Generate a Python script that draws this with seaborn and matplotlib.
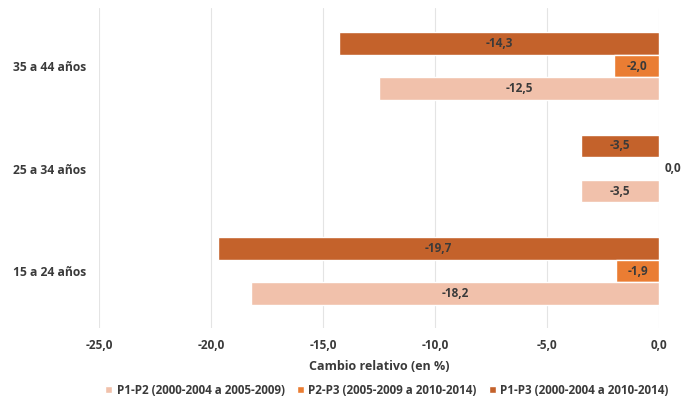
import matplotlib
matplotlib.use("Agg")
import matplotlib.pyplot as plt
import seaborn as sns
import pandas as pd
from matplotlib.patches import Patch

# Age groups (top to bottom) and relative change per period comparison
grupos = ["35 a 44 años", "25 a 34 años", "15 a 24 años"]
periodos = ["P1-P2 (2000-2004 a 2005-2009)",
            "P2-P3 (2005-2009 a 2010-2014)",
            "P1-P3 (2000-2004 a 2010-2014)"]
p1_p2 = [-12.5, -3.5, -18.2]
p2_p3 = [-2.0, 0.0, -1.9]
p1_p3 = [-14.3, -3.5, -19.7]
x_ticks = [-25, -20, -15, -10, -5, 0]

colores = {periodos[0]: "#F1C1AB",
           periodos[1]: "#EA7D33",
           periodos[2]: "#C4622B"}

df = pd.DataFrame({
    "grupo": grupos * 3,
    "periodo": [periodos[0]] * 3 + [periodos[1]] * 3 + [periodos[2]] * 3,
    "valor": p1_p2 + p2_p3 + p1_p3,
})

sns.set_theme(style="white")
plt.rcParams["font.family"] = ["Open Sans", "DejaVu Sans"]
txt = "#3A3A3A"

fig = plt.figure(figsize=(6.87, 4.0), dpi=100)
ax = fig.add_axes([99 / 687, 1 - 328 / 400, (659 - 99) / 687, 320 / 400])

# Dodge order: P1-P3 on top, then P2-P3, then P1-P2
hue_order = [periodos[2], periodos[1], periodos[0]]
sns.barplot(data=df, y="grupo", x="valor", hue="periodo", order=grupos,
            hue_order=hue_order, palette=colores, width=0.66,
            orient="h", ax=ax, legend=False, errorbar=None, saturation=1)

# Value labels centred on each bar
for cont, per in zip(ax.containers, hue_order):
    vals = df[df["periodo"] == per].set_index("grupo").loc[grupos, "valor"]
    for bar, v in zip(cont, vals):
        yc = bar.get_y() + bar.get_height() / 2
        lab = f"{v:.1f}".replace(".", ",")
        if v == 0:
            ax.text(0.25, yc, lab, ha="left", va="center",
                    fontsize=8.5, fontweight="bold", color=txt, clip_on=False)
        else:
            ax.text(v / 2, yc, lab, ha="center", va="center",
                    fontsize=8.5, fontweight="bold", color=txt)

ax.set_xlim(-25, 0)
ax.set_ylim(2.556, -0.566)
ax.set_xticks(x_ticks)
ax.set_xticklabels([f"{t:.1f}".replace(".", ",") for t in x_ticks],
                   fontsize=8.5, fontweight="bold", color=txt)
ax.tick_params(axis="x", length=0, pad=8)
ax.tick_params(axis="y", length=0, pad=9, labelsize=8.7, labelcolor=txt)
for lbl in ax.get_yticklabels():
    lbl.set_fontweight("bold")
ax.grid(axis="x", color="#E4E4E4", linewidth=0.8)
ax.set_axisbelow(True)
for s in ax.spines.values():
    s.set_visible(False)
ax.set_ylabel("")
ax.set_xlabel("Cambio relativo (en %)", fontsize=9, fontweight="bold",
              color=txt, labelpad=6)

handles = [Patch(facecolor=colores[p], label=p) for p in periodos]
fig.legend(handles=handles, loc="center", bbox_to_anchor=(387 / 687, 1 - 390 / 400),
           ncol=3, frameon=False, handlelength=0.6, handleheight=0.6,
           handletextpad=0.4, columnspacing=1.0,
           prop={"size": 8.4, "weight": "bold"}, labelcolor=txt)

fig.savefig("out.png", dpi=100, facecolor="white")
